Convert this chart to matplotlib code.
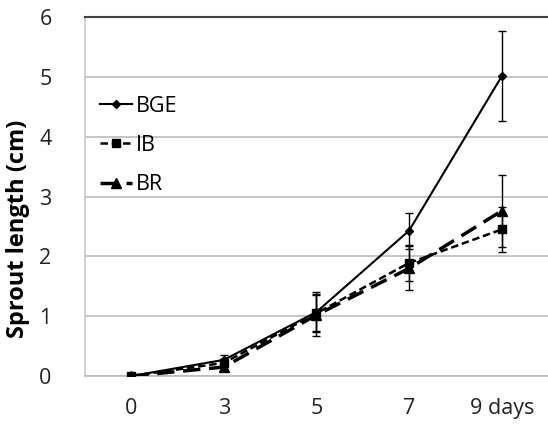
import matplotlib
matplotlib.use('Agg')
import matplotlib.pyplot as plt
from matplotlib.lines import Line2D
import numpy as np

plt.rcParams['font.family'] = ['Open Sans', 'DejaVu Sans']

days = ['0', '3', '5', '7', '9 days']

bge = [0.0, 0.27, 1.07, 2.43, 5.01]
bge_err = [0.02, 0.08, 0.33, 0.30, 0.75]

ib = [0.0, 0.22, 1.05, 1.89, 2.45]
ib_err = [0.02, 0.06, 0.30, 0.30, 0.38]

br = [0.0, 0.15, 1.02, 1.80, 2.76]
br_err = [0.02, 0.06, 0.35, 0.37, 0.60]

fig = plt.figure(figsize=(5.48, 4.33), dpi=100)
ax = fig.add_axes([0.155, 0.1316, 0.845, 0.829])

x = np.arange(len(days))

styles = [
    (bge, bge_err, 'BGE', '-', 1.5, 'D', 4),
    (ib, ib_err, 'IB', (0, (3, 1.5)), 1.8, 's', 6),
    (br, br_err, 'BR', (0, (5, 2.5)), 2.5, '^', 7),
]

handles = []
for vals, err, name, ls, lw, mk, ms in styles:
    ax.errorbar(x, vals, yerr=err, color='k', linestyle=ls, linewidth=lw,
                marker=mk, markersize=ms, capsize=3, elinewidth=1, zorder=3)
    handles.append(Line2D([], [], color='k', linestyle=ls, linewidth=lw,
                          marker=mk, markersize=ms, label=name))

ax.set_xlim(-0.5, 4.5)
ax.set_ylim(0, 6)
ax.set_xticks(x)
ax.set_xticklabels(days)
ax.set_yticks(range(0, 7))
ax.tick_params(axis='both', length=0, labelsize=15.5, colors='#222222')
ax.tick_params(axis='x', pad=16)
ax.tick_params(axis='y', pad=24)
ax.yaxis.grid(True, color='#bbbbbb', linewidth=1.2)
ax.set_axisbelow(True)

ax.spines['right'].set_visible(False)
ax.spines['top'].set_color('#404040')
ax.spines['top'].set_linewidth(1.5)
ax.spines['left'].set_color('#c8c8c8')
ax.spines['bottom'].set_color('#bbbbbb')
ax.spines['left'].set_linewidth(1.2)
ax.spines['bottom'].set_linewidth(1.2)

ax.set_ylabel('Sprout length (cm)', fontsize=17, fontweight='bold',
              va='center', ha='center')
ax.yaxis.set_label_coords(-0.145, 0.41)

ax.legend(handles=handles, loc='upper left', bbox_to_anchor=(0.0, 0.823), frameon=False,
          fontsize=15.5, handlelength=1.5, handletextpad=0.15,
          labelspacing=0.85, borderaxespad=0.3)

fig.savefig('out.png', dpi=100)
